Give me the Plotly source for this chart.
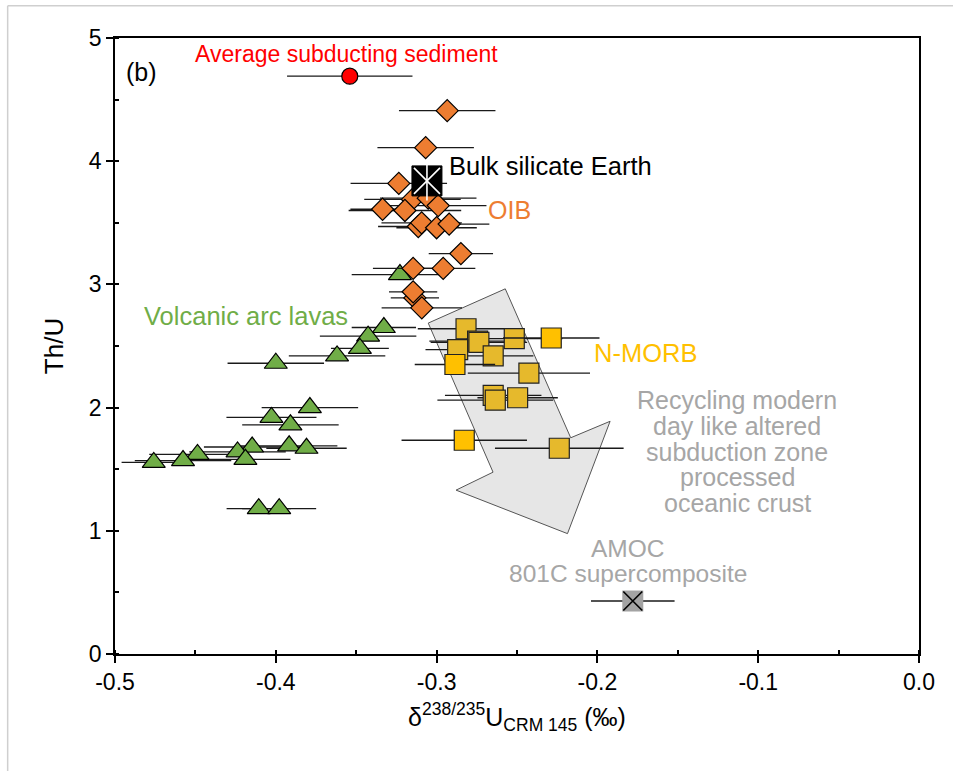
import plotly.graph_objects as go

FONT = "Liberation Sans, Arial, Helvetica, sans-serif"

# Volcanic arc lavas: delta238U (permil), Th/U, 2SD on delta238U
arc_d238 = [-0.3228, -0.3328, -0.3426, -0.3477, -0.3619, -0.4000, -0.3788,
            -0.4027, -0.3909, -0.3917, -0.3809, -0.4147, -0.4238, -0.4189,
            -0.4487, -0.4577, -0.4759, -0.4106, -0.3979]
arc_thu = [3.08, 2.65, 2.58, 2.48, 2.42, 2.36, 2.00,
           1.92, 1.86, 1.69, 1.67, 1.68, 1.64, 1.58,
           1.62, 1.57, 1.555, 1.18, 1.18]
arc_err = [0.030, 0.020, 0.030, 0.018, 0.030, 0.030, 0.030,
           0.028, 0.030, 0.030, 0.025, 0.030, 0.030, 0.028,
           0.030, 0.030, 0.020, 0.020, 0.023]

# Ocean island basalts
oib_d238 = [-0.2934, -0.3068, -0.3235, -0.3150, -0.3052, -0.2990, -0.3336,
            -0.3197, -0.3114, -0.3093, -0.3000, -0.2922, -0.2849, -0.3146,
            -0.2959, -0.3135, -0.3146, -0.3092]
oib_thu = [4.41, 4.11, 3.82, 3.69, 3.70, 3.64, 3.61,
           3.60, 3.47, 3.50, 3.46, 3.49, 3.25, 3.13,
           3.13, 2.89, 2.94, 2.81]
oib_err = [0.030, 0.030, 0.030, 0.030, 0.030, 0.030, 0.020,
           0.035, 0.025, 0.025, 0.025, 0.025, 0.020, 0.025,
           0.020, 0.015, 0.015, 0.025]

# N-MORB (two sample suites)
morb_d238 = [-0.2817, -0.2745, -0.2737, -0.2517, -0.2869, -0.2648,
             -0.2426, -0.2648, -0.2635, -0.2496, -0.2237]
morb_thu = [2.64, 2.54, 2.53, 2.56, 2.47, 2.42,
            2.28, 2.10, 2.06, 2.08, 1.67]
morb_err = [0.030, 0.030, 0.030, 0.030, 0.020, 0.025,
            0.038, 0.030, 0.036, 0.025, 0.040]

morb2_d238 = [-0.2287, -0.2886, -0.2828]
morb2_thu = [2.565, 2.35, 1.735]
morb2_err = [0.030, 0.025, 0.039]

# Reference reservoirs
sed_d238, sed_thu, sed_err = [-0.354], [4.69], [0.039]
bse_d238, bse_thu = [-0.306], [3.84]
amoc_d238, amoc_thu, amoc_err = [-0.178], [0.43], [0.026]

# Outline of the recycling arrow (delta238U, Th/U)
arrow_d238 = [-0.3052, -0.2573, -0.2166, -0.1921, -0.2186, -0.2879, -0.2649]
arrow_thu = [2.686, 2.964, 1.755, 1.889, 0.977, 1.330, 1.476]

x_ticks = [-0.5, -0.4, -0.3, -0.2, -0.1, 0.0]
x_tick_labels = ["-0.5", "-0.4", "-0.3", "-0.2", "-0.1", "0.0"]
y_ticks = [0, 1, 2, 3, 4, 5]

recycling_lines = ["Recycling modern", "day like altered", "subduction zone",
                   "processed", "oceanic crust"]
amoc_lines = ["AMOC", "801C supercomposite"]

ERR_COLOR = "#1a1a1a"


def err(arr):
    return dict(type="data", array=arr, visible=True, width=0,
                thickness=1.3, color=ERR_COLOR)


fig = go.Figure()

fig.add_trace(go.Scatter(
    x=arc_d238, y=arc_thu, mode="markers", error_x=err(arc_err),
    marker=dict(symbol="triangle-up", size=20, color="#70AD47",
                line=dict(color="black", width=1.2))))

fig.add_trace(go.Scatter(
    x=oib_d238, y=oib_thu, mode="markers", error_x=err(oib_err),
    marker=dict(symbol="diamond", size=17, color="#ED7D31",
                line=dict(color="black", width=1.2))))

fig.add_trace(go.Scatter(
    x=morb_d238, y=morb_thu, mode="markers", error_x=err(morb_err),
    marker=dict(symbol="square", size=20, color="#E6B92C",
                line=dict(color="#222222", width=1.2))))

fig.add_trace(go.Scatter(
    x=morb2_d238, y=morb2_thu, mode="markers", error_x=err(morb2_err),
    marker=dict(symbol="square", size=20, color="#FFC000",
                line=dict(color="#222222", width=1.2))))

fig.add_trace(go.Scatter(
    x=sed_d238, y=sed_thu, mode="markers", error_x=err(sed_err),
    marker=dict(symbol="circle", size=16, color="#FF0000",
                line=dict(color="black", width=1.2))))

# Bulk silicate Earth: black square with white cross and vertical stroke
fig.add_trace(go.Scatter(
    x=bse_d238, y=bse_thu, mode="markers",
    marker=dict(symbol="square", size=30, color="black",
                line=dict(color="black", width=1))))
fig.add_trace(go.Scatter(
    x=bse_d238, y=bse_thu, mode="markers",
    marker=dict(symbol="x-thin-open", size=26, color="white",
                line=dict(color="white", width=1.6))))
fig.add_trace(go.Scatter(
    x=bse_d238, y=bse_thu, mode="markers",
    marker=dict(symbol="line-ns-open", size=28, color="white",
                line=dict(color="white", width=1.6))))

# AMOC 801C supercomposite
fig.add_trace(go.Scatter(
    x=amoc_d238, y=amoc_thu, mode="markers", error_x=err(amoc_err),
    marker=dict(symbol="square", size=21, color="#A3A3A3",
                line=dict(color="#A3A3A3", width=0))))
fig.add_trace(go.Scatter(
    x=amoc_d238, y=amoc_thu, mode="markers",
    marker=dict(symbol="x-thin-open", size=19, color="black",
                line=dict(color="black", width=1.6))))

# Recycling arrow drawn beneath the data
path = "M " + " L ".join(f"{x},{y}" for x, y in zip(arrow_d238, arrow_thu)) + " Z"
fig.add_shape(type="path", path=path, xref="x", yref="y", layer="below",
              fillcolor="#E6E6E6", line=dict(color="#555555", width=1))

# Faint frame of the figure panel
fig.add_shape(type="line", xref="paper", yref="paper",
              x0=-0.1335, x1=1.05, y0=1.0525, y1=1.0525,
              line=dict(color="#CFCFCF", width=1.5))
fig.add_shape(type="line", xref="paper", yref="paper",
              x0=-0.1335, x1=-0.1335, y0=-0.2, y1=1.0525,
              line=dict(color="#CFCFCF", width=1.5))

ann = [
    dict(text="(b)", x=-0.4945, y=4.727, xanchor="left", font=dict(size=25, color="black")),
    dict(text="Average subducting sediment", x=-0.3561, y=4.874, font=dict(size=23, color="#FF0000")),
    dict(text="Bulk silicate Earth", x=-0.2936, y=3.963, xanchor="left", font=dict(size=25.5, color="black")),
    dict(text="OIB", x=-0.2545, y=3.606, font=dict(size=25, color="#ED7D31")),
    dict(text="Volcanic arc lavas", x=-0.4187, y=2.746, font=dict(size=25.5, color="#70AD47")),
    dict(text="N-MORB", x=-0.1704, y=2.446, font=dict(size=25.5, color="#FFC000")),
]
# tightly spaced grey captions, one line per annotation
for i, line in enumerate(recycling_lines):
    ann.append(dict(text=line, x=-0.1131, y=2.058 - 0.208 * i,
                    font=dict(size=25, color="#A6A6A6")))
for i, line in enumerate(amoc_lines):
    ann.append(dict(text=line, x=-0.181, y=0.855 - 0.205 * i,
                    font=dict(size=24.5, color="#A6A6A6")))

for a in ann:
    a.setdefault("xanchor", "center")
    fig.add_annotation(xref="x", yref="y", yanchor="middle", showarrow=False,
                       align="center", **a)

axis_common = dict(showgrid=False, zeroline=False, showline=True,
                   linecolor="black", linewidth=1.6, mirror=True,
                   ticks="outside", ticklen=7, tickwidth=1.5, tickcolor="black",
                   tickfont=dict(size=23, color="black", family=FONT))

fig.update_layout(
    width=953, height=771,
    margin=dict(l=115, r=34, t=38, b=117),
    paper_bgcolor="white", plot_bgcolor="white",
    showlegend=False,
    font=dict(family=FONT, color="black"),
    xaxis=dict(range=[-0.5, 0.0], tickvals=x_ticks, ticktext=x_tick_labels,
               minor=dict(ticks="inside", dtick=0.05, ticklen=4, tickwidth=1.5,
                          tickcolor="black"),
               title=dict(text="δ<sup>238/235</sup>U<sub>CRM 145</sub> (‰)",
                          font=dict(size=25, color="black"), standoff=14),
               **axis_common),
    yaxis=dict(range=[0, 5], tickvals=y_ticks,
               minor=dict(ticks="inside", dtick=0.5, ticklen=4, tickwidth=1.5,
                          tickcolor="black"),
               title=dict(text="Th/U", font=dict(size=26, color="black"),
                          standoff=18),
               **axis_common),
    # inward halves of the major ticks
    xaxis2=dict(overlaying="x", anchor="y2", side="bottom", range=[-0.5, 0.0],
                tickvals=x_ticks, showticklabels=False, ticks="inside",
                ticklen=5, tickwidth=1.5, tickcolor="black",
                showgrid=False, zeroline=False, showline=False),
    yaxis2=dict(overlaying="y", anchor="x2", side="left", range=[0, 5],
                tickvals=y_ticks, showticklabels=False, ticks="inside",
                ticklen=5, tickwidth=1.5, tickcolor="black",
                showgrid=False, zeroline=False, showline=False),
)

fig.write_html("out.html")
